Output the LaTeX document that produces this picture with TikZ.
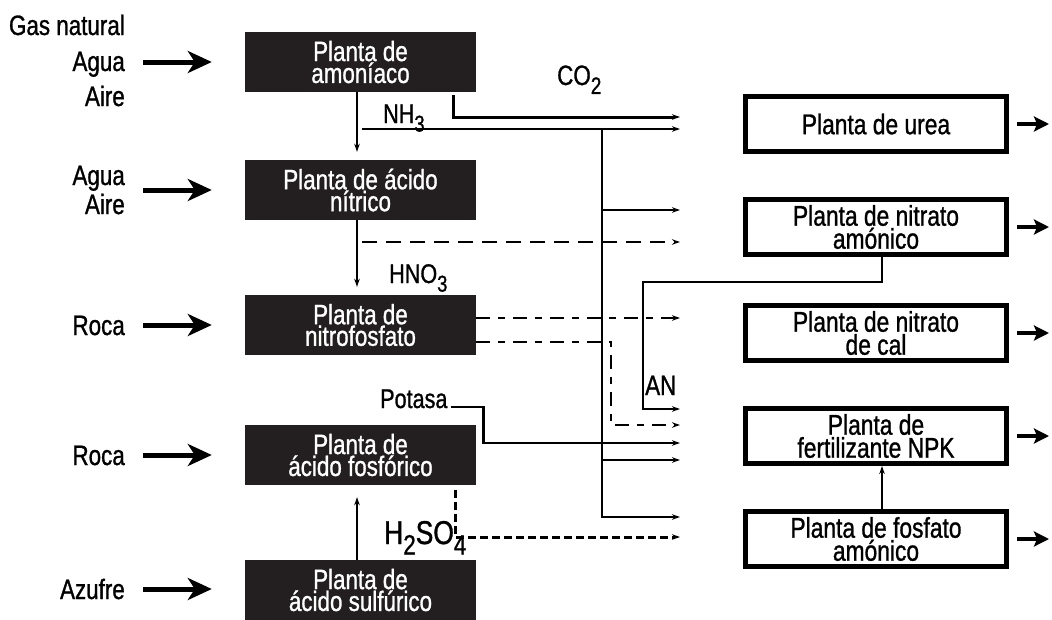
\documentclass[tikz,border=0pt]{standalone}
\usepackage{fontspec}
\setmainfont[FakeStretch=0.8,FakeBold=1]{Liberation Sans}
\usetikzlibrary{arrows.meta}
\definecolor{boxblack}{RGB}{35,31,32}
\newcommand\mysub[1]{\raisebox{-0.32em}{\scalebox{0.85}{#1}}}
\begin{document}
\begin{tikzpicture}[x=1pt,y=-1pt,
  bbox/.style={fill=boxblack, draw=none, minimum width=231pt, minimum height=60pt, inner sep=0pt,
    text=white, align=center, font=\fontsize{28}{20}\selectfont},
  wbox/.style={draw, line width=5pt, minimum width=261pt, minimum height=55pt, inner sep=0pt,
    align=center, font=\fontsize{28.5}{23}\selectfont},
  lbl/.style={inner sep=0pt, font=\fontsize{28}{28}\selectfont},
  inarr/.style={line width=5pt, -{Stealth[length=24pt,width=22pt,inset=7pt]}},
  outarr/.style={line width=4pt, -{Stealth[length=15pt,width=15pt,inset=3pt]}},
  thinarr/.style={line width=1.5pt, -{Stealth[length=8pt,width=5.5pt]}},
  flow/.style={line width=#1, -{Stealth[length=8pt,width=5.5pt]}},
  dsh/.style={line width=2pt, dash pattern=on 15pt off 9pt, -{Stealth[length=8pt,width=5.5pt]}},
  dd/.style={line width=2pt, dash pattern=on 14pt off 8pt on 7pt off 8pt, -{Stealth[length=8pt,width=5.5pt]}},
  fdsh/.style={line width=3pt, dash pattern=on 8pt off 4pt, -{Stealth[length=8pt,width=5.5pt]}}]
\useasboundingbox (0,0) rectangle (1052,619);

% plants (left)
\node[bbox] (amon) at (360.5,62) {Planta de\\amoníaco};
\node[bbox] (nitr) at (360.5,190) {Planta de ácido\\nítrico};
\node[bbox] (nfos) at (360.5,325) {Planta de\\nitrofosfato};
\node[bbox] (afos) at (360.5,455) {Planta de\\ácido fosfórico};
\node[bbox] (asul) at (360.5,590) {Planta de\\ácido sulfúrico};

% plants (right)
\node[wbox] (urea) at (876,124) {Planta de urea};
\node[wbox] (nam)  at (876,227) {Planta de nitrato\\amónico};
\node[wbox] (ncal) at (876,333) {Planta de nitrato\\de cal};
\node[wbox] (npk)  at (876,436) {Planta de\\fertilizante NPK};
\node[wbox] (fam)  at (876,539) {Planta de fosfato\\amónico};

% input labels
\node[lbl, anchor=base east] (gas) at (125,35) {Gas natural};
\node[lbl, anchor=base east] (ag1) at (125,71) {Agua};
\node[lbl, anchor=base east] (ai1) at (125,106) {Aire};
\node[lbl, anchor=base east] (ag2) at (125,185) {Agua};
\node[lbl, anchor=base east] (ai2) at (125,214) {Aire};
\node[lbl, anchor=base east] (ro1) at (125,335) {Roca};
\node[lbl, anchor=base east] (ro2) at (125,465) {Roca};
\node[lbl, anchor=base east] (azu) at (125,599) {Azufre};

% input arrows
\coordinate (i1) at (143,62);
\coordinate (i2) at (143,190);
\coordinate (i3) at (143,325);
\coordinate (i4) at (143,455);
\coordinate (i5) at (143,589);
\draw[inarr] (i1) -- ([xshift=-33pt]amon.west);
\draw[inarr] (i2) -- ([xshift=-33pt]nitr.west);
\draw[inarr] (i3) -- ([xshift=-33pt]nfos.west);
\draw[inarr] (i4) -- ([xshift=-33pt]afos.west);
\draw[inarr] (i5) -- ([xshift=-33pt,yshift=1pt]asul.west);

% output arrows
\foreach \b in {urea,nam,ncal,npk,fam}
  \draw[outarr] ([xshift=8pt]\b.east) -- ++(32,0);

% vertical links between plants
\draw[thinarr] ([xshift=-3.5pt]amon.south) -- ([xshift=-3.5pt,yshift=8pt]nitr.north);
\draw[thinarr] ([xshift=-3.5pt]nitr.south) -- ([xshift=-3.5pt,yshift=8pt]nfos.north);
\draw[thinarr] ([xshift=-3.5pt]asul.north) -- ([xshift=-3.5pt,yshift=-12pt]afos.south);
\draw[thinarr] ([xshift=6pt]fam.north) -- ([xshift=6pt]npk.south);

% labels
\node[lbl, anchor=base west, font=\fontsize{27}{27}\selectfont] (nh3l) at (383,123) {NH\mysub{3}};
\node[lbl, anchor=base west] (co2l) at (557,85) {CO\mysub{2}};
\node[lbl, anchor=base west, font=\fontsize{27}{27}\selectfont] (hno3l) at (389,283) {HNO\mysub{3}};
\node[lbl, anchor=base west] (anl) at (645,395) {AN};
\node[lbl, anchor=base west, font=\fontsize{27}{27}\selectfont] (pot) at (380,408) {Potasa};
\node[lbl, anchor=base west, font=\fontsize{33}{33}\selectfont] (h2so4l) at (384,544) {H\mysub{2}SO\mysub{4}};

% CO2
\draw[flow=3pt] ([xshift=92.5pt,yshift=-3pt]amon.south) |- ([xshift=-63pt,yshift=7pt]urea.west);
% NH3
\coordinate (nh3) at (362,129);
\draw[flow=1.8pt] (nh3) -- ([xshift=-63pt,yshift=-5pt]urea.west);
\coordinate (j1) at (602,129);
\coordinate (j2) at (602,210);
\coordinate (j3) at (602,460);
\draw[flow=2.2pt] (j1) |- ([xshift=-63pt,yshift=22pt]fam.west);
\draw[flow=2.2pt] (j2) -- ([xshift=-63pt,yshift=17pt]nam.west);
\draw[flow=2.2pt] (j3) -- ([xshift=-63pt,yshift=-24pt]npk.west);
% HNO3 dashed
\coordinate (d1) at (362,242);
\draw[dsh] (d1) -- ([xshift=-63pt,yshift=-15pt]nam.west);
% nitrofosfato
\draw[dd] ([yshift=7pt]nfos.east) -- ([xshift=-63pt,yshift=15pt]ncal.west);
\draw[dd] ([yshift=-17pt]nfos.east) -- ++(135,0) |- ([xshift=-63pt,yshift=11pt]npk.west);
% AN
\draw[flow=2pt] ([xshift=6pt]nam.south) -- ++(0,25) -- ++(-239,0) |- ([xshift=-63pt,yshift=27pt]npk.west);
% Potasa
\draw[flow=2.5pt] ([xshift=3pt,yshift=1pt]pot.base east) -- ++(33,0) |- ([xshift=-63pt,yshift=-7pt]npk.west);
% phosphoric acid
\draw[fdsh] ([xshift=94.5pt,yshift=-5pt]afos.south) |- ([xshift=-63pt,yshift=2pt]fam.west);
\end{tikzpicture}
\end{document}
